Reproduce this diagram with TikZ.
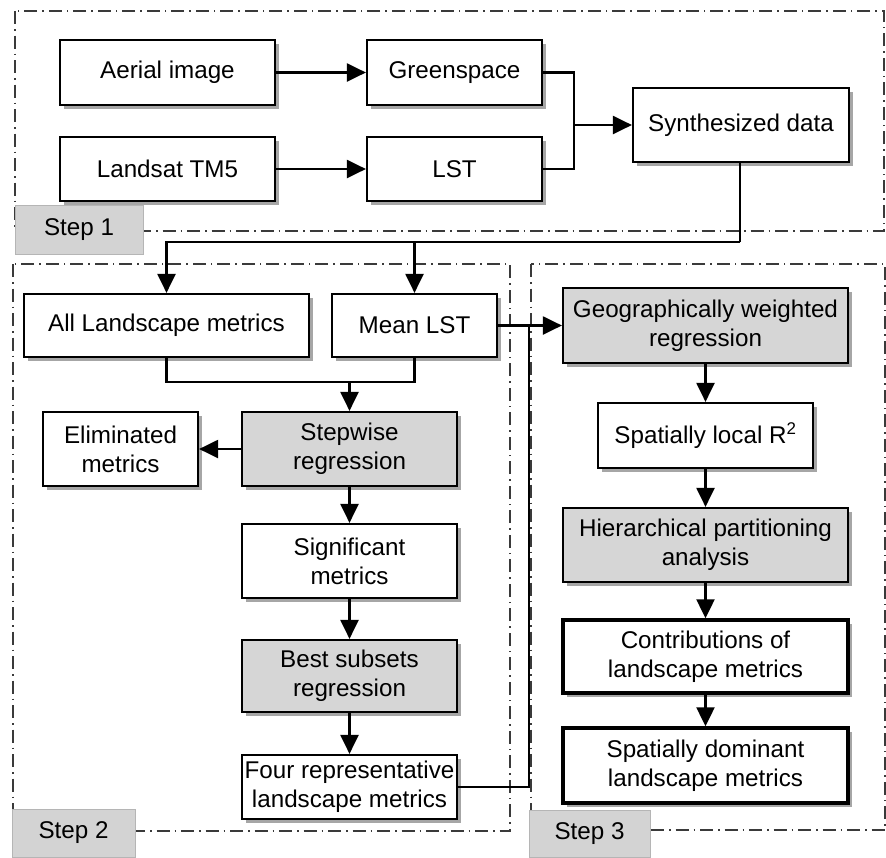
\documentclass[tikz,border=0pt]{standalone}
\usepackage{fontspec}
\setmainfont{Liberation Sans}
\usetikzlibrary{arrows.meta, shadows}
\definecolor{boxgray}{HTML}{D6D6D6}
\definecolor{labgray}{HTML}{D3D3D3}
\definecolor{labedge}{HTML}{B5B5B5}
\definecolor{frmgray}{HTML}{3A3A3A}
\tikzset{
  bx/.style={draw, line width=2.2pt, fill=white, align=center, inner sep=2pt,
    drop shadow={shadow xshift=4pt, shadow yshift=-4pt, opacity=0.35, fill=black}},
  gbx/.style={bx, fill=boxgray},
  tbx/.style={bx, line width=3.4pt},
  frm/.style={draw=frmgray, line width=1.2pt, dash pattern=on 13pt off 5pt on 1.5pt off 5pt},
  slab/.style={draw=labedge, fill=labgray, line width=0.8pt, inner sep=0pt},
  con/.style={line width=2.2pt, -{Triangle[length=19pt, width=18pt]}},
  lnk/.style={line width=2.2pt}
}
\begin{document}
\begin{tikzpicture}[x=1pt, y=-1pt, every node/.style={font=\fontsize{24.2}{29}\selectfont}]
		\useasboundingbox (0,0) rectangle (886,857);
		% frames of the three steps
		\draw[frm] (15,11) rectangle (884,231);
		\draw[frm] (13,264) rectangle (510,831);
		\draw[frm] (531,264) rectangle (885,830);
		\node[slab, minimum width=128, minimum height=49] (s1) at (79,229.5) {Step 1};
		\node[slab, minimum width=123, minimum height=48] (s2) at (73.5,833) {Step 2};
		\node[slab, minimum width=121, minimum height=47] (s3) at (589.5,833.5) {Step 3};
		% step 1
		\node[bx, minimum width=215, minimum height=65] (aer) at (167.5,72.5) {Aerial image};
		\node[bx, minimum width=215, minimum height=64] (lsat) at (167.5,169) {Landsat TM5};
		\node[bx, minimum width=175, minimum height=65] (grn) at (454.5,72.5) {Greenspace};
		\node[bx, minimum width=175, minimum height=64] (lst) at (454.5,169) {LST};
		\node[bx, minimum width=216, minimum height=74] (syn) at (741,125) {Synthesized data};
		% step 2
		\node[bx, minimum width=285, minimum height=63] (alm) at (166.5,325.5) {All Landscape metrics};
		\node[bx, minimum width=165, minimum height=63] (mlst) at (414.5,325.5) {Mean LST};
		\node[gbx, minimum width=215, minimum height=74] (stw) at (349.5,449) {Stepwise\\regression};
		\node[bx, minimum width=155, minimum height=74] (elim) at (120.5,449) {Eliminated\\metrics};
		\node[bx, minimum width=215, minimum height=74] (sig) at (349.5,561) {Significant\\metrics};
		\node[gbx, minimum width=215, minimum height=72] (bss) at (349.5,676) {Best subsets\\regression};
		\node[bx, minimum width=215, minimum height=64] (four) at (349.5,787) {Four representative\\landscape metrics};
		% step 3
		\node[gbx, minimum width=285, minimum height=75] (gwr) at (705.5,325.5) {Geographically weighted\\regression};
		\node[bx, minimum width=215, minimum height=65] (lr2) at (705.5,435.5) {Spatially local R\textsuperscript{2}};
		\node[gbx, minimum width=285, minimum height=74] (hpa) at (705.5,545) {Hierarchical partitioning\\analysis};
		\node[tbx, minimum width=285, minimum height=73] (con) at (705.5,656.5) {Contributions of\\landscape metrics};
		\node[tbx, minimum width=285, minimum height=75] (dom) at (705.5,765.5) {Spatially dominant\\landscape metrics};
		% joints
		\coordinate (jsyn) at (574,125);
		\coordinate (jtop) at (740,242);
		\coordinate (jmid) at (349.5,382);
		\coordinate (jgwr) at (529,325.5);
		% connectors
		\draw[con] (aer) -- (grn);
		\draw[con] (lsat) -- (lst);
		\draw[lnk] (grn.east) -| (jsyn) |- (lst.east);
		\draw[con] (jsyn) -- (syn.west);
		\draw[lnk] (syn.south -| jtop) -- (jtop);
		\draw[con] (jtop) -| (alm.north);
		\draw[con] (mlst.north |- jtop) -- (mlst.north);
		\draw[lnk] (alm.south) |- (jmid) -| (mlst.south);
		\draw[con] (jmid) -- (stw.north);
		\draw[con] (stw) -- (elim);
		\draw[con] (stw) -- (sig);
		\draw[con] (sig) -- (bss);
		\draw[con] (bss) -- (four);
		\draw[con] (mlst) -- (gwr);
		\draw[lnk] (four.east) -| (jgwr);
		\draw[con] (gwr) -- (lr2);
		\draw[con] (lr2) -- (hpa);
		\draw[con] (hpa) -- (con);
		\draw[con] (con) -- (dom);
	\end{tikzpicture}
\end{document}
